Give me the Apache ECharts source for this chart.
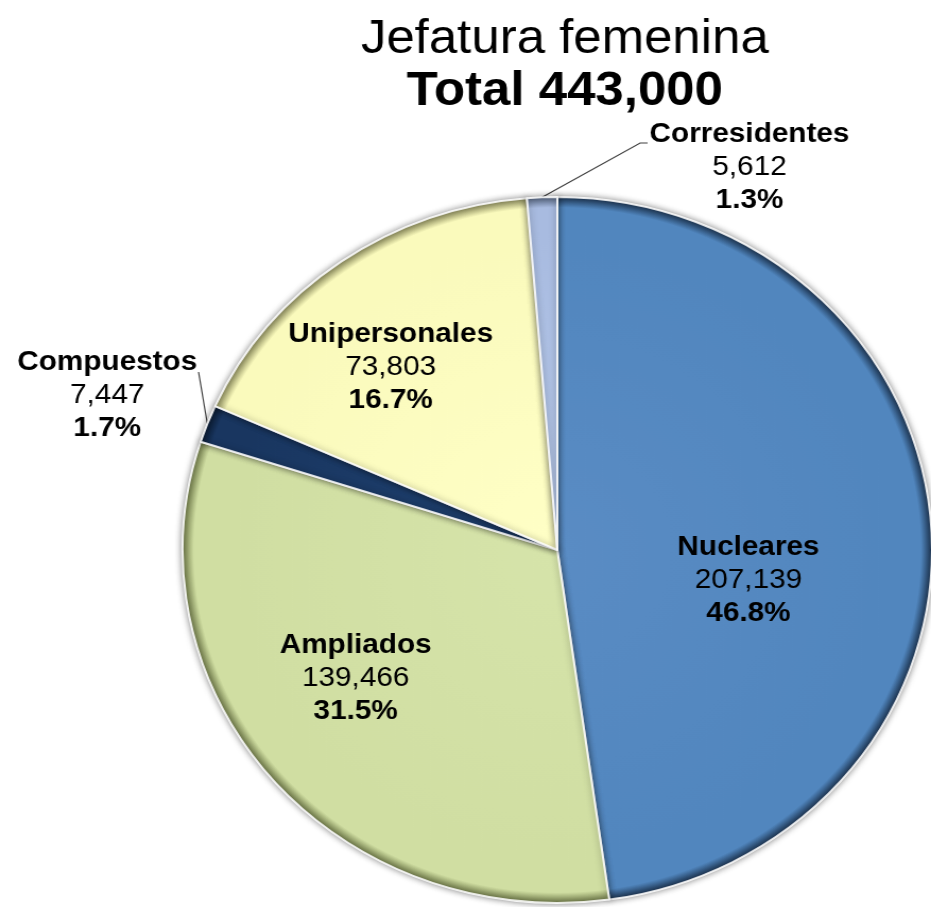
<!DOCTYPE html>
<html>
<head>
<meta charset="utf-8">
<script src="https://cdn.jsdelivr.net/npm/echarts@6/dist/echarts.min.js"></script>
<style>
  html, body { margin: 0; padding: 0; background: #fff; overflow: hidden; }
  /* el original esta un poco estirado a lo ancho */
  #main { width: 877px; height: 907px; transform: scaleX(1.0616); transform-origin: 0 0; }
</style>
</head>
<body>
<div id="main"></div>
<script>
// datos
var categorias = ['Nucleares', 'Ampliados', 'Compuestos', 'Unipersonales', 'Corresidentes'];
var hogares = [207139, 139466, 7447, 73803, 5612];
var porcentajes = ['46.8', '31.5', '1.7', '16.7', '1.3'];
var total = '443,000';

var colores = [
  ['#5a8cc4', '#5186be', '#1d3552'],
  ['#d6e4aa', '#d0dea2', '#6f7a48'],
  ['#1f4170', '#193660', '#0a1a30'],
  ['#ffffc6', '#fafabc', '#8a8a5a'],
  ['#b7c9ea', '#a8bbe0', '#55647e']
];

var cx = 525, cy = 550, R = 353;

// posicion de cada etiqueta (centro, antes del estiramiento)
var posEtiq = [[705, 580], [335, 678], [101, 395], [368, 367], [706, 167]];

function grad(c) {
  return {
    type: 'radial', x: cx, y: cy, r: R, global: true,
    colorStops: [
      { offset: 0, color: c[0] },
      { offset: 0.9, color: c[1] },
      { offset: 0.97, color: c[1] },
      { offset: 1, color: c[2] }
    ]
  };
}

var datos = categorias.map(function (n, i) {
  var fuera = (i === 2 || i === 4);
  return {
    name: n,
    value: hogares[i],
    itemStyle: { color: grad(colores[i]) },
    label: { position: fuera ? 'outside' : 'inside' },
    labelLine: { show: fuera }
  };
});

var chart = echarts.init(document.getElementById('main'));
var fuente = '"Liberation Sans", Arial, sans-serif';

var option = {
  backgroundColor: '#fff',
  animation: false,
  title: [{
    text: 'Jefatura femenina',
    left: 527, top: 11, textAlign: 'center',
    textStyle: { fontFamily: fuente, fontSize: 48, fontWeight: 'normal', color: '#000' }
  }, {
    text: 'Total ' + total,
    left: 527, top: 63, textAlign: 'center',
    textStyle: { fontFamily: fuente, fontSize: 48, fontWeight: 'bold', color: '#000' }
  }],
  series: [{
    type: 'pie',
    center: [cx, cy],
    radius: R,
    startAngle: 90,
    clockwise: true,
    avoidLabelOverlap: false,
    data: datos,
    itemStyle: {
      borderColor: 'rgba(255,255,255,0.85)',
      borderWidth: 2,
      shadowBlur: 6,
      shadowColor: 'rgba(0,0,0,0.45)'
    },
    label: {
      show: true,
      fontFamily: fuente,
      color: '#000',
      formatter: function (p) {
        return '{n|' + p.name + '}\n{v|' + p.value.toLocaleString('en-US') + '}\n{p|' + porcentajes[p.dataIndex] + '%}';
      },
      rich: {
        n: { fontFamily: fuente, fontSize: 28, fontWeight: 'bold', color: '#000', lineHeight: 33, align: 'center' },
        v: { fontFamily: fuente, fontSize: 28, fontWeight: 'normal', color: '#000', lineHeight: 33, align: 'center' },
        p: { fontFamily: fuente, fontSize: 28, fontWeight: 'bold', color: '#000', lineHeight: 33, align: 'center' }
      }
    },
    labelLine: {
      lineStyle: { color: '#404040', width: 1.2 }
    },
    labelLayout: function (p) {
      var c = posEtiq[p.dataIndex];
      var out = { x: c[0], y: c[1], align: 'center', verticalAlign: 'middle' };
      if (p.labelLinePoints) {
        var a = p.labelLinePoints[0];
        if (p.dataIndex === 2) {
          out.labelLinePoints = [a, [187, 372], [187, 372]];
        } else if (p.dataIndex === 4) {
          out.labelLinePoints = [a, [603, 143], [610, 143]];
        }
      }
      return out;
    }
  }]
};
chart.setOption(option);
</script>
</body>
</html>
